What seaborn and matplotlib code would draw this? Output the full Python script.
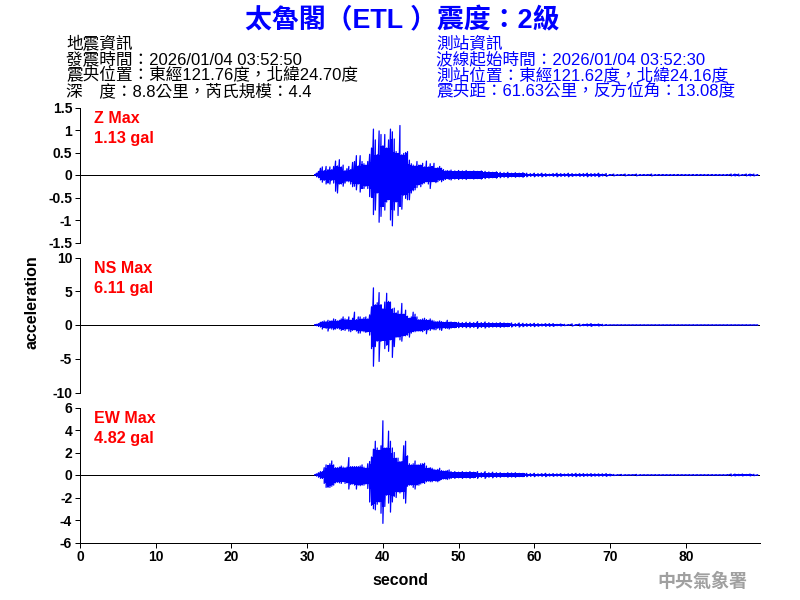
import numpy as np
import pandas as pd
import matplotlib
matplotlib.use("Agg")
import matplotlib.pyplot as plt
import seaborn as sns

TITLE = "太魯閣\uff08ETL \uff09震度\uff1a2級"
INFO_LEFT = ["地震資訊", "發震時間\uff1a2026/01/04 03:52:50",
             "震央位置\uff1a東經121.76度\uff0c北緯24.70度", "深\u3000度\uff1a8.8公里\uff0c芮氏規模\uff1a4.4"]
INFO_RIGHT = ["測站資訊", "波線起始時間\uff1a2026/01/04 03:52:30",
              "測站位置\uff1a東經121.62度\uff0c北緯24.16度", "震央距\uff1a61.63公里\uff0c反方位角\uff1a13.08度"]
CHANNELS = ["Z Max", "NS Max", "EW Max"]
MAX_LABELS = ["1.13 gal", "6.11 gal", "4.82 gal"]
Y_TICKS = [[1.5, 1, 0.5, 0, -0.5, -1, -1.5], [10, 5, 0, -5, -10], [6, 4, 2, 0, -2, -4, -6]]
Y_TICK_LABELS = [["1.5", "1", "0.5", "0", "-0.5", "-1", "-1.5"],
                 ["10", "5", "0", "-5", "-10"],
                 ["6", "4", "2", "0", "-2", "-4", "-6"]]
Y_LIMITS = [1.5, 10, 6]
X_TICKS = [0, 10, 20, 30, 40, 50, 60, 70, 80]

# sampled peak readings: 31–48.75 s every quarter second, one row per second
Z_UP = [.01,.04,.08,.15, .18,.10,.19,.12, .18,.12,.19,.31, .20,.34,.18,.22, .10,.14,.19,.12,
        .28,.30,.43,.20, .43,.30,.25,.22, .30,.46,.60,1.02, .78,.45,.98,.90, .65,.90,.60,.78,
        1.02,.96,.80,.52, .48,1.10,.45,.48, .50,.52,.33,.25, .22,.20,.30,.22, .22,.26,.18,.31,
        .18,.25,.19,.26, .15,.16,.19,.15, .12,.09,.10,.09]
Z_LOW = [.01,.04,.06,.11, .16,.12,.20,.18, .20,.12,.18,.36, .40,.20,.20,.25, .18,.14,.15,.20,
         .26,.25,.33,.20, .38,.30,.30,.25, .30,.48,.50,.88, .78,.40,1.05,.92, .70,.78,.60,.55,
         1.00,1.13,.78,.60, .90,.70,.76,.45, .52,.55,.55,.40, .35,.33,.28,.22, .26,.20,.18,.15,
         .20,.30,.15,.15, .17,.15,.12,.15, .12,.10,.08,.10]
NS_UP = [.05,.10,.20,.40, .50,.60,.50,.70, .60,.60,.90,.80, .60,.70,.90,1.2, .90,.80,1.2,.70,
         1.0,1.9,.80,1.2, 1.2,.90,1.1,1.2, .90,1.5,2.7,5.5, 3.0,3.3,4.8,3.0, 2.4,3.4,4.7,3.5,
         3.4,2.4,2.5,1.8, 2.1,1.6,3.2,1.6, 2.2,1.3,1.0,1.2, 1.9,1.6,1.2,.80, .80,.90,1.0,.80,
         .70,.90,.70,.60, .50,.50,.60,.50, .40,.40,.70,.40]
NS_LOW = [.05,.10,.20,.30, .60,.40,.50,.90, .50,.60,.70,.60, .50,.60,.80,.70, .80,.60,.90,1.0,
          .80,.70,.90,1.2, 1.2,.90,1.0,1.1, 1.0,1.5,3.5,6.11, 3.2,2.4,5.4,2.4, 2.3,3.5,3.0,3.9,
          2.2,4.8,3.2,1.8, 1.8,2.2,2.4,1.6, 1.6,1.5,1.8,1.2, 1.0,1.0,.90,.90, .90,1.0,.80,1.3,
          .70,.80,.60,.70, .70,.50,.70,.80, .40,.50,.50,.60]
EW_UP = [.02,.10,.20,.30, .30,.65,.90,.85, 1.0,1.25,.90,.65, .65,.70,.80,.70, .65,.70,1.55,.75,
         .75,.75,.75,.75, .80,.90,.70,.60, 1.0,1.2,1.6,2.3, 3.0,2.4,2.2,2.6, 4.82,2.4,2.4,3.9,
         3.0,2.4,2.0,1.5, 1.5,1.2,1.2,2.6, 3.0,1.7,1.0,.90, 1.0,1.25,.90,.90, 1.0,1.0,1.05,.80,
         .60,.65,.60,.50, .45,.50,.60,.40, .35,.35,.40,.45]
EW_LOW = [.02,.10,.20,.30, .30,.75,1.1,1.1, 1.1,1.0,.90,.70, .65,.70,.75,.60, .75,.70,1.25,.85,
          .80,.90,1.25,.90, .95,.90,.90,.80, 1.2,2.4,2.7,3.0, 3.1,2.6,2.4,3.4, 4.3,2.8,1.8,2.5,
          3.3,2.4,1.9,2.0, 1.5,1.6,1.5,2.1, 2.5,1.0,.90,.90, 1.1,1.25,.90,.90, .80,.70,.75,.60,
          .55,.60,.60,.50, .55,.60,.50,.40, .35,.35,.40,.35]

# coda amplitudes: 49–89.5 s every half second, one row per five seconds
Z_TAIL = [.11,.09,.10,.09,.10,.08,.09,.08,.09,.08,
          .07,.06,.07,.06,.05,.06,.04,.05,.04,.05,
          .04,.03,.04,.03,.04,.03,.02,.03,.04,.03,
          .03,.04,.03,.02,.03,.03,.04,.03,.03,.04,
          .02,.03,.01,.02,.01,.01,.02,.01,.01,.02,
          .01,.01,.01,.02,.01,.01,.01,.01,.01,.01,
          .01,.01,.01,.01,.01,.01,.01,.01,.01,.01,
          .01,.01,.01,.01,.02,.02,.02,.01,.02,.02,
          .02,.01]
NS_TAIL = [.45,.40,.40,.35,.40,.40,.35,.50,.35,.45,
           .35,.30,.30,.35,.30,.25,.30,.20,.30,.25,
           .20,.20,.25,.20,.15,.20,.20,.20,.10,.15,
           .10,.05,.15,.05,.15,.10,.15,.20,.10,.15,
           .10,.05,.02,.02,.02,.02,.02,.02,.02,.02,
           .02,.02,.02,.02,.02,.02,.02,.02,.02,.02,
           .02,.02,.02,.02,.02,.02,.02,.02,.02,.02,
           .02,.02,.02,.02,.02,.02,.02,.02,.02,.02,
           .02,.02]
EW_TAIL = [.30,.30,.25,.30,.25,.30,.25,.30,.20,.30,
           .20,.25,.20,.20,.15,.20,.18,.20,.15,.15,
           .15,.12,.15,.10,.12,.15,.10,.12,.10,.12,
           .08,.10,.12,.15,.12,.12,.10,.12,.10,.10,
           .10,.12,.08,.05,.02,.05,.02,.02,.02,.05,
           .02,.02,.02,.02,.02,.02,.02,.02,.02,.02,
           .02,.02,.02,.02,.02,.02,.02,.02,.02,.02,
           .02,.02,.02,.02,.08,.08,.06,.08,.05,.08,
           .06,.02]

T_CORE = np.arange(31, 49, 0.25)
T_TAIL = np.arange(49, 90, 0.5)
X_MAX = 89.8

sns.set_theme(style="white")
plt.rcParams["font.family"] = ["Liberation Sans", "Noto Sans CJK TC", "DejaVu Sans"]
plt.rcParams["axes.unicode_minus"] = False
BLUE = "#0000FF"
RED = "#FF0000"

W, H = 800, 600
fig = plt.figure(figsize=(8, 6), dpi=100, facecolor="white")


def label(px, py, s, **kw):
    fig.text(px / W, 1 - py / H, s, va="baseline", **kw)


def trace_frames(up, low, tail):
    tt = np.concatenate([T_CORE, T_TAIL])
    hi = np.concatenate([up, tail])
    lo = -np.concatenate([low, tail])
    zig = pd.DataFrame({"second": np.column_stack([tt, tt]).ravel(),
                        "gal": np.column_stack([hi, lo]).ravel()})
    # solid body of the trace: what the neighbouring peaks all reach
    body = pd.DataFrame({"second": tt,
                         "hi": pd.Series(hi).rolling(3, center=True, min_periods=1).min(),
                         "lo": pd.Series(lo).rolling(3, center=True, min_periods=1).max()})
    return zig, body


series = [(Z_UP, Z_LOW, Z_TAIL), (NS_UP, NS_LOW, NS_TAIL), (EW_UP, EW_LOW, EW_TAIL)]
tops = [107.5, 257.5, 407.5]
height = 135
for i, top in enumerate(tops):
    ax = fig.add_axes([80 / W, 1 - (top + height) / H, 680 / W, height / H])
    lim = Y_LIMITS[i]
    ax.axhline(0, color="black", lw=0.72, zorder=1)
    zig, body = trace_frames(*series[i])
    ax.fill_between(body["second"], body["lo"], body["hi"], step="mid", color=BLUE, lw=0, zorder=2)
    sns.lineplot(data=zig, x="second", y="gal", sort=False, estimator=None,
                 color=BLUE, lw=0.9, ax=ax, zorder=3)
    ax.set_xlim(0, X_MAX)
    ax.set_ylim(-lim, lim)
    ax.set_xlabel("")
    ax.set_ylabel("")
    ax.set_yticks(Y_TICKS[i])
    ax.set_yticklabels(Y_TICK_LABELS[i], fontsize=10, fontweight="bold")
    ax.tick_params(axis="y", left=True, length=3.6, width=0.72, pad=2, color="black", labelcolor="black")
    for s in ["top", "right"]:
        ax.spines[s].set_visible(False)
    ax.spines["left"].set_color("black")
    ax.spines["left"].set_linewidth(0.72)
    if i == 2:
        ax.spines["bottom"].set_color("black")
        ax.spines["bottom"].set_linewidth(0.72)
        ax.set_xticks(X_TICKS)
        ax.set_xticklabels([str(v) for v in X_TICKS], fontsize=10, fontweight="bold")
        ax.tick_params(axis="x", bottom=True, length=3.6, width=0.72, pad=2, color="black", labelcolor="black")
    else:
        ax.spines["bottom"].set_visible(False)
        ax.set_xticks([])
    label(94, top + 15.5, CHANNELS[i], color=RED, fontsize=11.5, fontweight="bold")
    label(94, top + 35.5, MAX_LABELS[i], color=RED, fontsize=11.7, fontweight="bold")

label(245, 28, TITLE, color=BLUE, fontsize=19.4, fontweight="bold")
ys = [49, 64.5, 80.5, 96]
for y, a, b in zip(ys, INFO_LEFT, INFO_RIGHT):
    label(66, y, a, color="black", fontsize=12)
    label(436, y, b, color=BLUE, fontsize=12)

fig.text(32 / W, 1 - 302 / H, "acceleration", rotation=90, va="center", ha="center",
         fontsize=11.5, fontweight="bold", color="black")
label(400.5, 585, "second", ha="center", fontsize=11.5, fontweight="bold", color="black")
label(702, 587, "中央氣象署", ha="center", fontsize=13, fontweight="bold", color="#A0A0A0")

fig.savefig("out.png", dpi=100, facecolor="white")
